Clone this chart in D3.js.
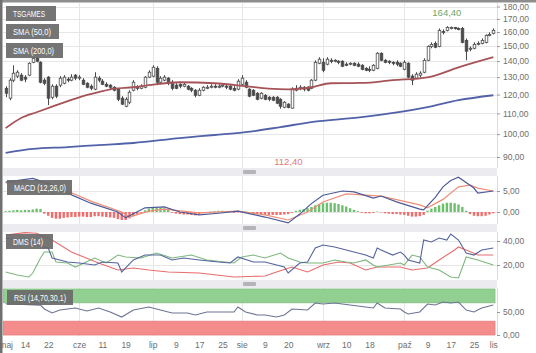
<!DOCTYPE html>
<html>
<head>
<meta charset="utf-8">
<script src="https://cdn.jsdelivr.net/npm/d3@7"></script>
<style>
  body { margin: 0; background: #fff; }
  svg { display: block; font-family: "Liberation Sans", Arial, sans-serif; }
</style>
</head>
<body>
<div id="chart"></div>
<script>
// daily candles, trading day index 0 = 7 May, 126 = 4 Nov
const open = [123.5,118.0,128.2,130.6,131.2,130.0,131.2,139.2,141.8,139.2,
  128.2,130.0,118.5,124.7,125.3,126.4,128.8,128.2,131.2,129.4,
  128.2,126.4,124.7,123.0,129.4,127.6,125.8,125.3,124.1,123.0,
  118.0,113.7,115.8,122.4,124.1,123.5,124.1,130.0,130.6,135.4,
  127.0,128.2,129.4,127.0,125.3,125.8,124.7,124.7,123.5,122.4,
  119.6,122.4,123.5,124.1,124.7,124.1,124.7,124.7,124.7,123.5,
  123.0,125.8,127.0,123.0,122.4,120.7,118.0,119.6,118.5,118.5,
  118.5,117.4,113.2,114.8,112.7,122.4,123.5,124.1,124.1,123.5,
  128.2,138.6,139.2,138.0,140.5,139.9,139.9,139.9,138.0,138.0,
  138.6,138.0,137.3,135.4,134.8,134.2,135.4,145.1,140.5,139.9,
  139.2,139.2,138.6,134.8,138.6,130.6,129.4,131.2,133.0,140.5,
  149.8,151.9,149.8,160.5,161.3,162.7,163.5,162.7,162.7,154.0,
  147.8,148.5,151.2,151.9,152.6,157.6,159.1];
const high = [124.7,129.4,137.3,134.2,132.4,131.2,139.2,142.5,142.5,139.9,
  129.4,130.6,125.8,125.8,130.6,131.2,130.0,131.8,131.8,131.2,
  129.4,127.0,125.8,133.0,130.6,128.8,127.0,125.8,124.7,123.5,
  119.1,118.5,122.4,128.2,125.3,125.8,130.6,134.2,137.3,136.7,
  130.6,131.2,130.0,128.2,126.4,126.4,127.0,125.3,124.1,123.0,
  123.5,124.7,125.3,125.8,125.8,125.8,126.4,125.8,125.3,124.7,
  128.8,131.2,128.2,123.5,123.0,121.3,121.3,120.2,119.1,119.1,
  119.1,118.0,116.4,115.3,124.1,125.3,125.3,124.7,124.7,128.8,
  140.5,142.5,141.8,142.5,141.8,141.2,140.5,140.5,139.2,139.2,
  139.2,139.2,138.0,136.1,136.7,138.0,145.8,145.8,141.2,140.5,
  139.9,140.5,139.2,140.5,139.2,131.8,133.0,133.6,141.8,150.5,
  152.6,153.3,162.7,162.0,164.4,164.2,163.8,163.5,163.8,155.4,
  149.8,152.6,153.3,155.4,158.3,159.8,162.7];
const low = [118.5,116.9,127.0,129.4,127.6,127.0,130.6,138.6,139.2,126.4,
  125.3,114.3,117.4,118.0,124.1,125.8,127.0,127.6,128.2,128.2,
  125.3,123.5,122.4,122.4,127.0,125.3,124.1,123.0,121.8,116.4,
  114.3,113.2,114.8,121.8,122.4,123.0,123.5,129.4,130.0,125.3,
  125.8,127.6,125.3,122.4,123.0,123.5,124.1,122.4,121.3,118.5,
  119.1,121.8,123.0,123.5,123.5,123.5,124.1,123.0,122.4,121.8,
  122.4,125.3,123.5,118.5,119.1,116.9,117.4,116.9,116.4,116.4,
  114.8,112.4,112.7,112.6,112.5,121.8,122.4,121.8,121.8,123.0,
  127.6,138.0,133.0,137.3,138.6,139.2,138.0,136.1,136.7,137.3,
  136.7,136.1,134.2,133.6,133.0,133.6,134.8,139.9,138.6,138.0,
  137.3,136.7,136.1,134.2,129.4,125.3,128.8,130.0,132.4,139.9,
  148.5,148.5,149.2,158.3,160.5,162.0,161.8,161.3,151.9,140.5,
  146.5,147.8,150.5,151.2,151.9,156.9,158.3];
const close = [120.7,128.2,132.4,133.0,128.2,128.8,138.6,141.8,139.9,127.0,
  126.4,118.0,124.7,119.1,129.4,130.0,128.2,130.0,129.4,130.0,
  125.8,124.1,123.5,130.0,128.2,125.8,124.7,124.1,122.4,117.4,
  114.8,117.4,121.3,127.0,123.5,124.7,130.0,133.0,136.1,127.0,
  129.4,130.0,126.4,123.5,123.5,124.7,125.8,123.0,122.4,119.6,
  122.4,124.1,124.1,124.7,124.1,124.7,125.3,124.1,123.0,122.4,
  127.6,129.4,124.1,119.1,119.6,117.4,120.7,117.4,117.4,116.9,
  115.3,113.7,115.8,113.0,123.0,123.5,124.1,123.0,122.4,128.2,
  139.2,141.2,134.2,141.2,139.9,140.5,139.2,136.7,137.3,138.6,
  137.3,136.7,134.8,134.2,134.2,137.3,145.1,140.5,139.2,139.2,
  138.6,138.0,136.7,139.2,130.0,128.2,131.8,132.4,140.5,149.8,
  151.2,149.2,161.3,159.8,163.5,163.5,162.7,162.0,152.6,146.5,
  148.5,151.2,151.9,154.0,157.6,158.3,161.3];

// moving averages [day, value]
const sma50 = [[0,102.8],[4,107.7],[8,110.6],[12,113.5],[19,118.5],[24,121.3],[28,123.3],[33,124.1],
  [37,125.3],[45,127.0],[54,126.4],[62,124.7],[68,123.3],[73,122.9],[79,124.1],[84,126.4],
  [92,126.6],[100,128.2],[109,129.9],[117,136.0],[126,142.5]];
const sma200 = [[0,91.7],[7,93.4],[16,94.2],[24,95.1],[33,96.0],[45,98.2],[54,99.6],[62,100.9],
  [71,103.3],[79,105.7],[92,108.1],[109,113.2],[117,116.9],[126,119.6]];

// MACD (12,26,0)
const macdLine = [[0,7.1],[7,8.0],[12,6.5],[16,4.5],[22,2.1],[29,0],[31,-1.4],[36,1.0],[41,1.2],
  [45,0.0],[50,-0.7],[55,-0.3],[60,0.2],[67,-1.2],[73,-2.6],[76,-0.5],[79,2.0],[82,4.0],[87,5.0],
  [90,4.8],[95,3.3],[97,3.8],[101,2.4],[107,0.7],[108,0.5],[111,3.5],[113,6.0],[115,7.5],[117,8.3],
  [121,5.7],[122,4.5],[126,5.0]];
const macdSignal = [[0,6.9],[8,7.5],[16,5.0],[22,2.6],[30,0],[32,-1.2],[37,0.2],[41,0.7],[50,-0.2],
  [60,0.2],[67,-0.7],[73,-1.9],[78,0.0],[82,2.4],[88,4.3],[93,4.0],[97,3.8],[107,1.7],[109,1.0],
  [113,3.0],[117,6.0],[120,6.4],[122,5.7],[126,5.0]];
const macdHist = [0.2,0.3,0.4,0.5,0.4,0.5,0.5,0.6,0.8,0.7,
  -0.4,-0.9,-1.4,-1.6,-1.6,-1.4,-1.3,-1.2,-1.2,-1.1,
  -1.1,-1.2,-1.2,-1.0,-1.0,-1.1,-1.2,-1.3,-1.4,-1.7,
  -1.9,-1.9,-1.5,-1.0,-0.6,-0.2,0.4,0.8,1.1,1.0,
  1.0,0.9,0.6,-0.2,-0.4,-0.5,-0.6,-0.6,-0.7,-0.8,
  -0.6,-0.3,-0.2,0.1,0.2,0.3,0.3,0.2,0.1,-0.2,
  -0.1,0.2,0.1,-0.3,-0.4,-0.5,-0.6,-0.7,-0.7,-0.7,
  -0.7,-0.7,-0.6,-0.5,-0.2,0.3,0.5,0.7,0.9,1.2,
  1.6,1.9,2.1,2.2,2.2,2.1,1.9,1.6,1.3,0.9,
  0.5,0.2,-0.2,-0.3,-0.3,-0.2,0.1,-0.1,-0.3,-0.4,
  -0.5,-0.5,-0.6,-0.7,-0.9,-1.1,-1.1,-1.0,-0.7,0.3,
  0.8,1.2,1.6,2.0,2.2,2.2,2.1,1.8,1.2,0.3,
  -0.5,-0.9,-1.0,-1.0,-0.9,-0.6,-0.3];

// DMS (14)
const dmsBlue = [[0,42.5],[3,41],[11,34.2],[12,25.8],[16,22.5],[19,21.7],[23,20],[25,22.5],[29,21.7],
  [30,14.2],[33,24.2],[36,28.3],[40,28.3],[43,24.2],[46,25.8],[50,24.2],[55,22.5],[58,21.7],[60,26.7],
  [64,22.5],[67,22.5],[72,18.3],[73,13.3],[76,21.7],[78,22.5],[80,34.2],[82,36.7],[85,35],[88,32.5],
  [90,30.8],[93,28.3],[95,25.8],[96,34.2],[97,32.5],[100,28.3],[102,30.8],[103,28.3],[104,24.2],
  [107,21.7],[108,40.8],[110,39.2],[112,42.5],[114,40.8],[115,45.8],[117,40.8],[119,30],[121,28.3],
  [123,32.5],[126,34.2]];
const dmsGreen = [[0,14.2],[3,11.7],[6,10],[7,13.3],[9,25.8],[10,30.8],[12,30.8],[13,22.5],[16,21.7],
  [18,18.3],[23,25.8],[26,21.7],[29,28.3],[31,26.7],[35,25.8],[39,30],[43,25.8],[48,28.3],[52,24.2],
  [59,21.7],[61,26.7],[64,28.3],[67,25.8],[71,30],[73,25.8],[76,22.5],[78,21.7],[82,21.7],[85,24.2],
  [88,22.5],[90,21.7],[93,24.2],[95,20],[96,18.3],[99,20],[102,21.7],[103,20],[105,28.3],[107,26.7],
  [109,18.3],[112,15.8],[115,10],[117,9.2],[119,26.7],[122,24.2],[126,20]];
const dmsRed = [[0,45],[5,47],[8,46.5],[12,40.8],[17,30.8],[24,21.7],[29,15.8],[33,17.5],[37,15.8],
  [42,14.2],[50,13.3],[59,10],[67,10.8],[70,14.2],[74,18.3],[78,14.2],[82,20],[86,22.5],[89,21.7],
  [93,15.8],[96,18.3],[102,18.3],[105,15.8],[109,17.5],[112,24.2],[116,32.5],[117,35],[119,32.5],
  [122,28.3],[126,28.3]];

// RSI (14,70,30,1)
const rsi = [[0,68],[9,65],[10,56.5],[12,47.8],[14,54.3],[18,58.7],[21,52.2],[24,58.7],[27,50],
  [30,39.1],[33,54.3],[37,60.9],[40,54.3],[43,47.8],[47,47.8],[49,43.5],[52,50],[55,50],[59,50],
  [60,60.9],[62,50],[65,43.5],[67,43.5],[70,39.1],[72,43.5],[74,56.5],[78,54.3],[80,69.6],[82,67.4],
  [85,69.6],[89,65.2],[93,60.9],[95,58.7],[96,69.6],[98,58.7],[102,56.5],[103,50],[104,45.7],
  [107,50],[109,67.4],[111,65.2],[113,71.7],[115,69.6],[117,71.7],[119,54.3],[121,50],[123,58.7],
  [126,65.2]];

// axis labels
const tickLabels = ["maj","14","22","cze","11","19","lip","9","17","25","sie","9","20","wrz","10","18","paź","9","17","25","lis"];
const tickDays = [0,5,11,19,25,31,38,44,50,56,61,67,73,82,88,94,103,109,115,121,126];
const monthDays = [19,38,61,82,103];
const priceTicks = [90,100,110,120,130,140,150,160,170,180];
const macdTicks = [0,5];
const dmsTicks = [20,40];
const rsiTicks = [0,50];

const W = 536, H = 353;
const plotL = 3, plotR = 497;

const svg = d3.select("#chart").append("svg").attr("width", W).attr("height", H);

const x = d3.scaleLinear().domain([0, 126]).range([5.65, 493.3]);

const panels = [
  {id: "main", top: 3, bottom: 168},
  {id: "macd", top: 176, bottom: 224},
  {id: "dms", top: 232, bottom: 280},
  {id: "rsi", top: 288, bottom: 336}
];

const yPrice = d3.scaleLog().domain([90, 180]).range([157, 6.5]);
const yMacd = d3.scaleLinear().domain([0, 5]).range([212, 191]);
const yDms = d3.scaleLinear().domain([20, 40]).range([265, 241]);
const yRsi = d3.scaleLinear().domain([0, 50]).range([335, 312]);

const comma = v => d3.format(".2f")(v).replace(".", ",");

// frame
svg.append("rect").attr("x", 0).attr("y", 0).attr("width", W).attr("height", 2.5).attr("fill", "#8e8e8e");
svg.append("rect").attr("x", 0).attr("y", 0).attr("width", 2.5).attr("height", H).attr("fill", "#707070");

const defs = svg.append("defs");
panels.forEach(p => {
  defs.append("clipPath").attr("id", "clip-" + p.id)
    .append("rect").attr("x", plotL).attr("y", p.top).attr("width", plotR - plotL).attr("height", p.bottom - p.top);
});

// separators with handles
[[168, 176], [224, 232], [280, 288]].forEach(s => {
  svg.append("rect").attr("x", plotL).attr("y", s[0]).attr("width", plotR - plotL).attr("height", s[1] - s[0])
    .attr("fill", "#ececf0");
  svg.append("rect").attr("x", 243).attr("y", s[0] + 2).attr("width", 13).attr("height", 4)
    .attr("rx", 1).attr("fill", "#b4b4b8");
});

// grid
function hGrid(scale, ticks) {
  svg.append("g").selectAll("line").data(ticks).join("line")
    .attr("x1", plotL).attr("x2", plotR)
    .attr("y1", d => Math.round(scale(d)) + 0.5).attr("y2", d => Math.round(scale(d)) + 0.5)
    .attr("stroke", "#e6e6e6");
}
hGrid(yPrice, priceTicks);
hGrid(yMacd, macdTicks);
hGrid(yDms, dmsTicks);

panels.forEach(p => {
  svg.append("g").selectAll("line").data(monthDays).join("line")
    .attr("x1", d => Math.round(x(d)) + 0.5).attr("x2", d => Math.round(x(d)) + 0.5)
    .attr("y1", p.top).attr("y2", p.bottom)
    .attr("stroke", "#e6e6e6");
  svg.append("line").attr("x1", plotR + 0.5).attr("x2", plotR + 0.5)
    .attr("y1", p.top).attr("y2", p.bottom).attr("stroke", "#dcdcdc");
});

// main panel: candles
const gMain = svg.append("g").attr("clip-path", "url(#clip-main)");
const idx = d3.range(close.length);
const cw = 2.6;

gMain.append("g").selectAll("line").data(idx).join("line")
  .attr("x1", i => Math.round(x(i)) + 0.5).attr("x2", i => Math.round(x(i)) + 0.5)
  .attr("y1", i => yPrice(high[i])).attr("y2", i => yPrice(low[i]))
  .attr("stroke", "#4a4a4a").attr("stroke-width", 1);

gMain.append("g").selectAll("rect").data(idx).join("rect")
  .attr("x", i => Math.round(x(i)) + 0.5 - cw / 2)
  .attr("y", i => yPrice(Math.max(open[i], close[i])))
  .attr("width", cw)
  .attr("height", i => Math.max(1, yPrice(Math.min(open[i], close[i])) - yPrice(Math.max(open[i], close[i]))))
  .attr("fill", i => close[i] >= open[i] ? "#ffffff" : "#4a4a4a")
  .attr("stroke", "#4a4a4a").attr("stroke-width", 0.8);

const smaLine = d3.line().x(d => x(d[0])).y(d => yPrice(d[1])).curve(d3.curveMonotoneX);
gMain.append("path").datum(sma50).attr("d", smaLine).attr("fill", "none")
  .attr("stroke", "#a65358").attr("stroke-width", 1.8);
gMain.append("path").datum(sma200).attr("d", smaLine).attr("fill", "none")
  .attr("stroke", "#5262a8").attr("stroke-width", 1.8);

// max / min labels
const iMax = d3.maxIndex(high), iMin = d3.minIndex(low);
svg.append("text").attr("x", x(iMax)).attr("y", yPrice(high[iMax]) - 10)
  .attr("text-anchor", "middle").attr("font-size", 9.5).attr("fill", "#6aa86a").text(comma(high[iMax]));
svg.append("text").attr("x", x(iMin) + 8).attr("y", 165)
  .attr("text-anchor", "middle").attr("font-size", 9.5).attr("fill", "#e07a7a").text(comma(low[iMin]));

// MACD panel
const gMacd = svg.append("g").attr("clip-path", "url(#clip-macd)");
gMacd.append("g").selectAll("rect").data(idx).join("rect")
  .attr("x", i => x(i) - 1.2)
  .attr("y", i => macdHist[i] >= 0 ? yMacd(macdHist[i]) : yMacd(0))
  .attr("width", 2.4)
  .attr("height", i => Math.abs(yMacd(macdHist[i]) - yMacd(0)))
  .attr("fill", i => macdHist[i] >= 0 ? "#6cc06c" : "#f26c6c");
const macdPath = d3.line().x(d => x(d[0])).y(d => yMacd(d[1]));
gMacd.append("path").datum(macdSignal).attr("d", macdPath).attr("fill", "none")
  .attr("stroke", "#ee8e78").attr("stroke-width", 1.2);
gMacd.append("path").datum(macdLine).attr("d", macdPath).attr("fill", "none")
  .attr("stroke", "#4c5a98").attr("stroke-width", 1.2);

// DMS panel
const gDms = svg.append("g").attr("clip-path", "url(#clip-dms)");
const dmsPath = d3.line().x(d => x(d[0])).y(d => yDms(d[1]));
[[dmsRed, "#e86c6c"], [dmsGreen, "#7db87d"], [dmsBlue, "#56649e"]].forEach(s => {
  gDms.append("path").datum(s[0]).attr("d", dmsPath).attr("fill", "none")
    .attr("stroke", s[1]).attr("stroke-width", 1.1);
});

// RSI panel
const gRsi = svg.append("g").attr("clip-path", "url(#clip-rsi)");
gRsi.append("rect").attr("x", plotL).attr("width", plotR - plotL - 2)
  .attr("y", yRsi(100)).attr("height", yRsi(70) - yRsi(100))
  .attr("fill", "#92d092").attr("stroke", "#7fbf7f").attr("stroke-width", 0.8);
gRsi.append("rect").attr("x", plotL).attr("width", plotR - plotL - 2)
  .attr("y", yRsi(30)).attr("height", yRsi(0) - yRsi(30))
  .attr("fill", "#f48c8c").attr("stroke", "#e87a7a").attr("stroke-width", 0.8);
gRsi.append("path").datum(rsi)
  .attr("d", d3.line().x(d => x(d[0])).y(d => yRsi(d[1])))
  .attr("fill", "none").attr("stroke", "#6c7494").attr("stroke-width", 1.1);

// legend boxes
function tag(xp, yp, w, label, tw, stripe) {
  const g = svg.append("g");
  g.append("rect").attr("x", xp).attr("y", yp).attr("width", w).attr("height", 15)
    .attr("fill", "#6a6a6a").attr("opacity", 0.93);
  if (stripe) g.append("rect").attr("x", xp).attr("y", yp).attr("width", 1.5).attr("height", 15).attr("fill", stripe);
  g.append("text").attr("x", xp + 7).attr("y", yp + 10.6).attr("font-size", 8.5)
    .attr("textLength", tw).attr("lengthAdjust", "spacingAndGlyphs")
    .attr("fill", "#ffffff").text(label);
}
tag(6, 6, 50, "TSGAMES", 32);
tag(6, 24, 53, "SMA (50,0)", 38);
tag(6, 43, 57, "SMA (200,0)", 41);
tag(7, 180, 65, "MACD (12,26,0)", 52);
tag(6, 234, 47, "DMS (14)", 30);
tag(7, 290, 66, "RSI (14,70,30,1)", 52);

// right axes
function rightAxis(scale, ticks) {
  const g = svg.append("g").attr("transform", `translate(${plotR},0)`)
    .call(d3.axisRight(scale).tickValues(ticks).tickSize(3).tickPadding(3).tickFormat(comma));
  g.select(".domain").remove();
  g.selectAll("line").attr("stroke", "#999");
  g.selectAll("text").attr("fill", "#6e6e6e").attr("font-size", 8.5)
    .attr("font-family", "Liberation Sans, Arial, sans-serif");
}
rightAxis(yPrice, priceTicks);
rightAxis(yMacd, macdTicks);
rightAxis(yDms, dmsTicks);
rightAxis(yRsi, rsiTicks);

// bottom axis
const gx = svg.append("g").attr("transform", "translate(0,337)")
  .call(d3.axisBottom(x).tickValues(tickDays).tickSize(0).tickPadding(5)
    .tickFormat((d, i) => tickLabels[i]));
gx.select(".domain").remove();
gx.selectAll("text").attr("fill", "#6e6e6e").attr("font-size", 8.5)
  .attr("font-family", "Liberation Sans, Arial, sans-serif");
</script>
</body>
</html>
